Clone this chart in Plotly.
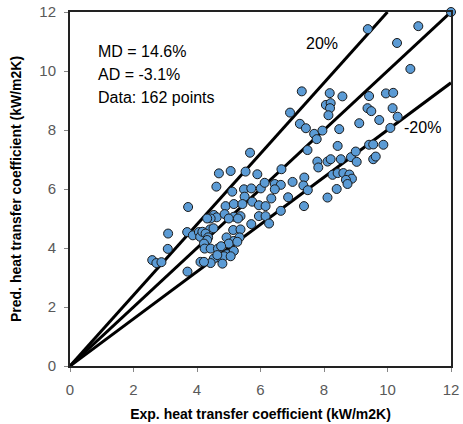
import plotly.graph_objects as go

exp_htc = [
    2.59, 2.72, 2.88, 3.09, 3.08, 3.72, 3.70, 3.69, 3.87, 4.06, 4.10, 4.11,
    4.69, 5.06, 4.61, 5.11, 4.90, 5.16, 4.53, 4.62, 4.43, 4.32, 4.87, 5.16,
    5.00, 5.37, 5.29, 4.41, 4.52, 4.17, 4.27, 5.14, 5.37, 4.93, 5.16, 5.34,
    4.35, 4.32, 4.22, 5.00, 5.27, 4.24, 4.43, 4.66, 4.76, 4.95, 5.16, 4.69,
    4.85, 4.53, 4.43, 4.80, 4.22, 4.64, 5.06,
    5.67, 5.53, 5.90, 6.66, 5.48, 5.71, 6.01, 6.13, 6.45, 6.64, 6.45, 5.50,
    5.74, 5.43, 5.95, 6.16, 6.34, 6.87, 5.95, 6.16, 6.64, 6.27, 5.71, 6.93,
    7.30, 8.06, 8.21, 8.19, 8.14, 8.18, 8.58, 7.24, 7.43, 7.69, 7.77, 7.95,
    8.48, 7.48, 8.43, 7.79, 7.82, 8.11, 8.21, 8.53, 8.85, 9.03, 7.01, 7.38,
    7.35, 7.49, 8.27, 8.43, 8.61, 8.80, 8.88, 8.69, 8.74, 8.40, 8.11, 7.37,
    9.11, 9.74, 10.09, 9.37, 9.49, 10.16, 10.32, 9.42, 9.95, 10.18, 9.38,
    10.97, 10.30, 10.72, 12.00, 9.00, 9.42, 9.55, 9.87, 9.55, 9.63,
]
pred_htc = [
    3.59, 3.49, 3.52, 4.49, 3.97, 5.39, 3.20, 4.54, 4.43, 4.54, 4.38, 3.53,
    6.53, 6.61, 6.08, 5.91, 5.42, 5.49, 5.12, 5.04, 5.00, 5.00, 5.15, 5.06,
    5.00, 5.08, 5.00, 4.63, 4.67, 4.55, 4.49, 4.61, 4.63, 4.36, 4.24, 4.36,
    4.36, 4.27, 4.15, 4.15, 4.21, 3.98, 3.98, 3.98, 4.06, 3.79, 3.90, 3.68,
    3.72, 3.64, 3.49, 3.47, 3.53, 3.76, 3.72,
    7.23, 6.59, 6.50, 6.67, 5.99, 6.02, 6.02, 6.21, 6.17, 6.14, 5.99, 5.74,
    5.57, 5.49, 5.45, 5.42, 5.68, 5.72, 5.08, 5.08, 5.26, 4.83, 4.81, 8.59,
    9.31, 8.85, 8.91, 8.74, 8.50, 9.25, 9.14, 8.21, 8.06, 7.87, 7.69, 7.98,
    8.03, 7.32, 7.46, 6.93, 6.73, 6.93, 7.01, 7.01, 7.08, 6.92, 6.24, 6.39,
    6.12, 5.96, 6.48, 6.54, 6.54, 6.49, 6.35, 6.31, 6.17, 6.00, 5.71, 5.42,
    8.23, 8.34, 8.07, 8.74, 8.64, 8.74, 8.45, 9.15, 9.24, 9.26, 11.42,
    11.52, 10.95, 10.07, 12.00, 7.27, 7.50, 7.51, 7.50, 7.01, 7.10,
]

ref_slopes = [1.0, 1.2, 0.8]
axis_max = 12
tick_vals = [0, 2, 4, 6, 8, 10, 12]
stats_lines = ["MD = 14.6%", "AD = -3.1%", "Data: 162 points"]
band_labels = ["20%", "-20%"]

fig = go.Figure()

for s in ref_slopes:
    x_end = min(axis_max, axis_max / s)
    fig.add_trace(go.Scatter(
        x=[0, x_end], y=[0, s * x_end], mode="lines",
        line=dict(color="black", width=3), showlegend=False, hoverinfo="skip",
        cliponaxis=False,
    ))

fig.add_trace(go.Scatter(
    x=exp_htc, y=pred_htc, mode="markers",
    marker=dict(size=9, color="#5B9BD5", line=dict(color="#1a1a1a", width=1)),
    showlegend=False, cliponaxis=False,
))

font_family = "Liberation Sans, Arial, sans-serif"

for i, t in enumerate(stats_lines):
    fig.add_annotation(
        x=0.83, y=10.66 - i * 0.78, xref="x", yref="y", text=t,
        showarrow=False, xanchor="left", yanchor="middle",
        font=dict(family=font_family, size=16, color="black"),
    )

fig.add_annotation(x=7.94, y=10.92, xref="x", yref="y", text=band_labels[0],
                   showarrow=False, font=dict(family=font_family, size=16, color="black"))
fig.add_annotation(x=11.09, y=8.09, xref="x", yref="y", text=band_labels[1],
                   showarrow=False, font=dict(family=font_family, size=16, color="black"))

axis_common = dict(
    range=[0, axis_max], tickvals=tick_vals, showgrid=False, zeroline=False,
    showline=True, linecolor="#222222", linewidth=2, mirror=True,
    ticks="outside", ticklen=4, tickcolor="#868686", tickwidth=1,
    tickfont=dict(family=font_family, size=15, color="#595959"),
    ticklabelstandoff=5,
    automargin=False,
)

fig.update_layout(
    width=463, height=424,
    margin=dict(l=70, r=12, t=12, b=58),
    paper_bgcolor="white", plot_bgcolor="white",
    xaxis=dict(**axis_common,
               title=dict(text="<b>Exp. heat transfer coefficient (kW/m2K)</b>",
                          font=dict(family=font_family, size=14, color="black"),
                          standoff=12)),
    yaxis=dict(**axis_common,
               title=dict(text="<b>Pred. heat transfer coefficient (kW/m2K)</b>",
                          font=dict(family=font_family, size=14, color="black"),
                          standoff=14)),
)

fig.write_html(
    "out.html",
    config={"displayModeBar": False},
    post_script="document.body.style.margin='0';document.body.style.overflow='hidden';",
)
